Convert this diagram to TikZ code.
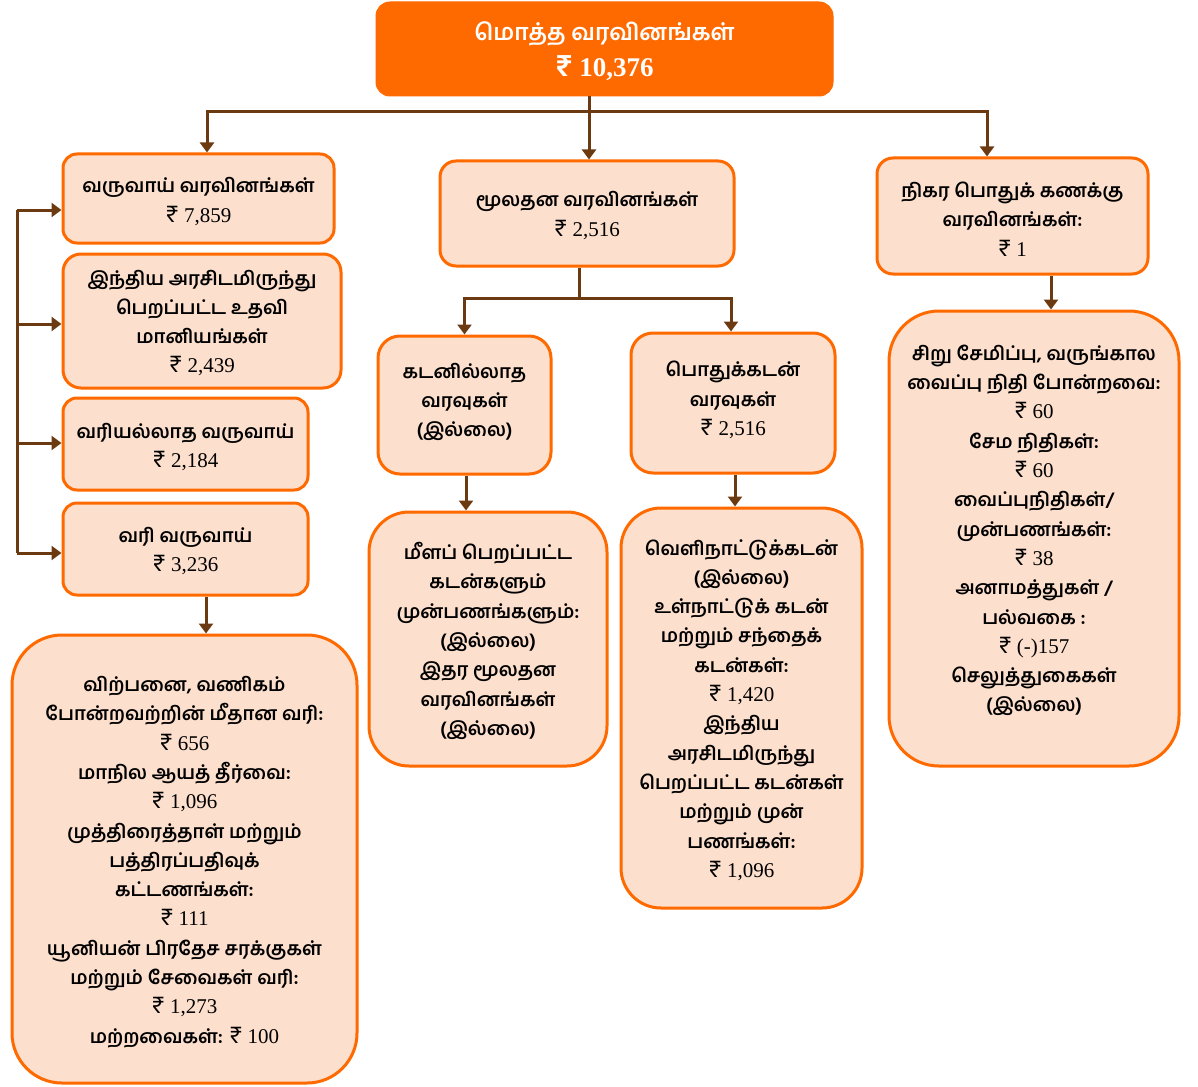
\documentclass[tikz,border=0pt]{standalone}
\usepackage{fontspec}
\usetikzlibrary{arrows.meta}
\newfontfamily\ta[Script=Tamil]{Hind Madurai}
\newfontfamily\numfont{Liberation Serif}
\newfontfamily\rupfont[Scale=1.15]{Hind Madurai}
\newcommand\R[1]{{\mdseries\fontsize{21}{29.3}\selectfont\rupfont ₹\numfont\ #1}}
\definecolor{brd}{HTML}{FF6A00}
\definecolor{fil}{HTML}{FCDFCC}
\definecolor{lnk}{HTML}{6B3A10}
\tikzset{
  box/.style={draw=brd, fill=fil, line width=3pt, align=center, inner sep=0pt,
    font={\ta\bfseries\fontsize{19}{29.3}\selectfont}},
  txt/.style={align=center, inner sep=0pt,
    font={\ta\bfseries\fontsize{19}{29.3}\selectfont}},
  topbox/.style={draw=brd, fill=brd, line width=1pt, align=center, inner sep=0pt, text=white,
    font={\ta\bfseries\fontsize{23}{36}\selectfont}},
  arr/.style={draw=lnk, line width=3pt, -{Triangle[width=14pt,length=10pt]}},
  ln/.style={draw=lnk, line width=3pt}
}
\begin{document}
\begin{tikzpicture}[x=1pt,y=-1pt]
\useasboundingbox (0,0) rectangle (1198,1086);
\node[topbox, minimum width=457, minimum height=94, rounded corners=14] (top) at (604.5,49) {};
\node[align=center, inner sep=0pt, text=white, font={\ta\bfseries\fontsize{23}{36}\selectfont}] (topt) at ([yshift=-2]top.center)
  {மொத்த வரவினங்கள்\\{\fontsize{27}{36}\selectfont\rupfont ₹\numfont\bfseries\ 10,376}};
\node[box, minimum width=271, minimum height=89, rounded corners=14] (l1) at (198.5,198.5) {};
\node[txt] (l1t) at ([yshift=-3]l1.center) {வருவாய் வரவினங்கள்\\\R{7,859}};
\node[box, minimum width=278, minimum height=134, rounded corners=18] (l2) at (202,321) {};
\node[txt] (l2t) at ([yshift=-2]l2.center)
  {இந்திய அரசிடமிருந்து\\பெறப்பட்ட உதவி\\மானியங்கள்\\\R{2,439}};
\node[box, minimum width=245, minimum height=92, rounded corners=14] (l3) at (185.5,444) {};
\node[txt] (l3t) at ([yshift=-3]l3.center) {வரியல்லாத வருவாய்\\\R{2,184}};
\node[box, minimum width=245, minimum height=92, rounded corners=14] (l4) at (185.5,549) {};
\node[txt] (l4t) at ([yshift=-2]l4.center) {வரி வருவாய்\\\R{3,236}};
\node[box, minimum width=345, minimum height=448, rounded corners=50] (l5) at (184.5,859) {};
\node[txt] (l5t) at ([yshift=-3]l5.center)
  {விற்பனை, வணிகம்\\போன்றவற்றின் மீதான வரி:\\\R{656}\\மாநில ஆயத் தீர்வை:\\\R{1,096}\\முத்திரைத்தாள் மற்றும்\\பத்திரப்பதிவுக்\\கட்டணங்கள்:\\\R{111}\\யூனியன் பிரதேச சரக்குகள்\\மற்றும் சேவைகள் வரி:\\\R{1,273}\\மற்றவைகள்: \R{100}};
\node[box, minimum width=294, minimum height=105, rounded corners=16] (m1) at (587,213.5) {};
\node[txt] (m1t) at ([yshift=-2]m1.center) {மூலதன வரவினங்கள்\\\R{2,516}};
\node[box, minimum width=173, minimum height=138, rounded corners=22] (m2a) at (464.5,405) {};
\node[txt] (m2at) at ([yshift=3]m2a.center) {கடனில்லாத\\வரவுகள்\\(இல்லை)};
\node[box, minimum width=204, minimum height=140, rounded corners=22] (m2b) at (733,403) {};
\node[txt] (m2bt) at ([yshift=3]m2b.center) {பொதுக்கடன்\\வரவுகள்\\\R{2,516}};
\node[box, minimum width=238, minimum height=254, rounded corners=40] (m3a) at (488,639) {};
\node[txt] (m3at) at ([yshift=-2]m3a.center)
  {மீளப் பெறப்பட்ட\\கடன்களும்\\முன்பணங்களும்:\\(இல்லை)\\இதர மூலதன\\வரவினங்கள்\\(இல்லை)};
\node[box, minimum width=241, minimum height=400, rounded corners=40] (m3b) at (741.5,708) {};
\node[txt] (m3bt) at ([yshift=-2]m3b.center)
  {வெளிநாட்டுக்கடன்\\(இல்லை)\\உள்நாட்டுக் கடன்\\மற்றும் சந்தைக்\\கடன்கள்:\\\R{1,420}\\இந்திய\\அரசிடமிருந்து\\பெறப்பட்ட கடன்கள்\\மற்றும் முன்\\பணங்கள்:\\\R{1,096}};
\node[box, minimum width=271, minimum height=116, rounded corners=16] (r1) at (1012.5,216) {};
\node[txt] (r1t) at ([yshift=-3]r1.center) {நிகர பொதுக் கணக்கு\\வரவினங்கள்:\\\R{1}};
\node[box, minimum width=290, minimum height=455, rounded corners=50] (r2) at (1034,538.5) {};
\node[txt] (r2t) at ([yshift=8]r2.center)
  {சிறு சேமிப்பு, வருங்கால\\வைப்பு நிதி போன்றவை:\\\R{60}\\சேம நிதிகள்:\\\R{60}\\வைப்புநிதிகள்/\\முன்பணங்கள்:\\\R{38}\\அனாமத்துகள் /\\பல்வகை :\\\R{(-)157}\\செலுத்துகைகள்\\(இல்லை)};
% top-level connectors
\coordinate (j1) at (589,112);
\draw[ln] (j1 |- top.south) -- (j1);
\draw[arr] (j1) -| ([xshift=8.5]l1.north);
\draw[arr] (j1) -- (j1 |- m1.north);
\draw[arr] (j1) -| ([xshift=-25.5]r1.north);
% middle branch
\coordinate (j2) at (579,298);
\draw[ln] (j2 |- m1.south) -- (j2);
\draw[arr] (j2) -| (m2a.north);
\draw[arr] (j2) -| ([xshift=-2]m2b.north);
\draw[arr] ([xshift=1.5]m2a.south) -- ([xshift=1.5]m2a.south |- m3a.north);
\draw[arr] ([xshift=2]m2b.south) -- ([xshift=2]m2b.south |- m3b.north);
% right branch
\draw[arr] ([xshift=38.5]r1.south) -- ([xshift=38.5]r1.south |- r2.north);
% left branch
\draw[arr] ([xshift=20.5]l4.south) -- ([xshift=20.5]l4.south |- l5.north);
\coordinate (bt) at (17,210);
\coordinate (bb) at (17,553);
\draw[ln] (bt) -- (bb);
\draw[arr] (bt) -- (bt -| l1.west);
\draw[arr] (17,324) coordinate (b2) -- (b2 -| l2.west);
\draw[arr] (17,443) coordinate (b3) -- (b3 -| l3.west);
\draw[arr] (bb) -- (bb -| l4.west);
\end{tikzpicture}
\end{document}
